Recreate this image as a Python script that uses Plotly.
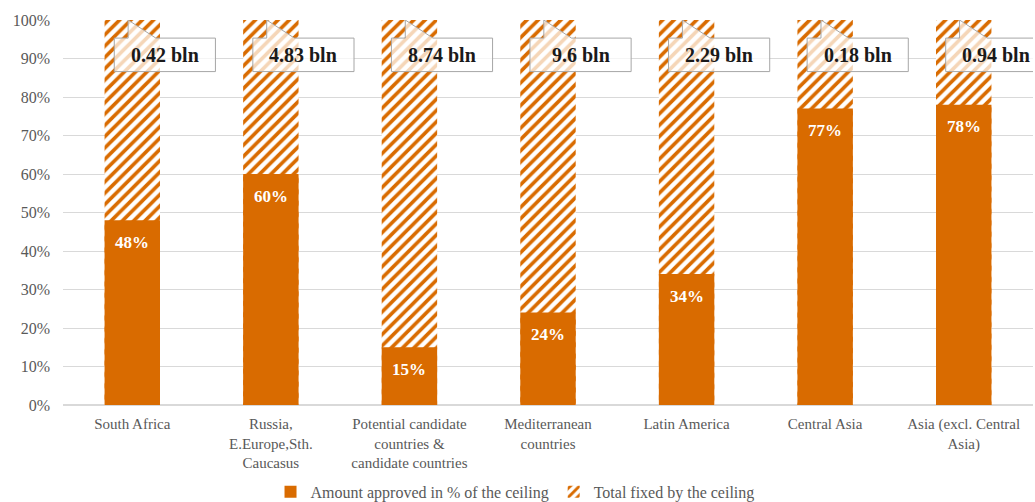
import plotly.graph_objects as go

categories = [
    "South Africa",
    "Russia,<br>E.Europe,Sth.<br>Caucasus",
    "Potential candidate<br>countries &<br>candidate countries",
    "Mediterranean<br>countries",
    "Latin America",
    "Central Asia",
    "Asia (excl. Central<br>Asia)",
]
approved_pct = [48, 60, 15, 24, 34, 77, 78]
ceiling_total = [100, 100, 100, 100, 100, 100, 100]
ceiling_labels = ["0.42 bln", "4.83 bln", "8.74 bln", "9.6 bln", "2.29 bln", "0.18 bln", "0.94 bln"]

ORANGE = "#D96B00"
FONT = "Liberation Serif"
GREY = "#595959"

xs = list(range(len(categories)))

fig = go.Figure()
fig.add_trace(go.Bar(
    x=xs, y=ceiling_total, name="Total fixed by the ceiling", width=0.4,
    marker=dict(color="white", line=dict(width=0),
                pattern=dict(shape="/", fgcolor=ORANGE, bgcolor="white",
                             size=8, solidity=0.45, fillmode="replace")),
    legendrank=2, hoverinfo="skip",
))
fig.add_trace(go.Bar(
    x=xs, y=approved_pct, name="Amount approved in % of the ceiling", width=0.4,
    marker=dict(color=ORANGE, line=dict(width=0)),
    legendrank=1,
))

shapes = []
annotations = []
for i, v in zip(xs, approved_pct):
    annotations.append(dict(x=i, y=v, xref="x", yref="y", yshift=-22,
                            text=f"<b>{v}%</b>", showarrow=False,
                            font=dict(family=FONT, size=17, color="white")))
for i, lab in zip(xs, ceiling_labels):
    x0, x1 = i - 0.13, i + 0.6
    yb, yt = 86.6, 95.3
    tx = i - 0.03
    px1 = i + 0.17
    path = (f"M {x0},{yt} L {tx},{yt} L {tx},100 L {px1},{yt} L {x1},{yt} "
            f"L {x1},{yb} L {x0},{yb} Z")
    shapes.append(dict(type="path", path=path, xref="x", yref="y",
                       fillcolor="rgba(255,255,255,0.72)",
                       line=dict(color="#A6A6A6", width=1), layer="above"))
    annotations.append(dict(x=(x0 + x1) / 2, y=(yb + yt) / 2, xref="x", yref="y",
                            text=f"<b>{lab}</b>", showarrow=False,
                            font=dict(family=FONT, size=20, color="#1a1a1a")))

fig.update_layout(
    width=1035, height=502,
    margin=dict(l=63, r=2, t=20, b=97, autoexpand=False),
    barmode="overlay",
    plot_bgcolor="white", paper_bgcolor="white",
    font=dict(family=FONT, size=15, color=GREY),
    shapes=shapes, annotations=annotations,
    showlegend=True,
    legend=dict(orientation="h", x=0.466, xanchor="center", yref="container",
                y=0.02, yanchor="middle", bgcolor="rgba(0,0,0,0)",
                font=dict(family=FONT, size=16, color=GREY), traceorder="normal",
                itemwidth=30),
    xaxis=dict(tickmode="array", tickvals=xs, ticktext=categories,
               range=[-0.5, len(categories) - 0.5], showgrid=False,
               showline=False, ticks="", automargin=False, ticklabelstandoff=8,
               tickfont=dict(size=15, color=GREY)),
    yaxis=dict(range=[0, 100], dtick=10, ticksuffix="%", showgrid=True,
               gridcolor="#D9D9D9", gridwidth=1, zeroline=True, zerolinecolor="#D9D9D9",
               showline=False, ticks="", automargin=False, ticklabelstandoff=12,
               tickfont=dict(size=16, color=GREY)),
    bargap=0.6,
)

fig.write_html("out.html")
